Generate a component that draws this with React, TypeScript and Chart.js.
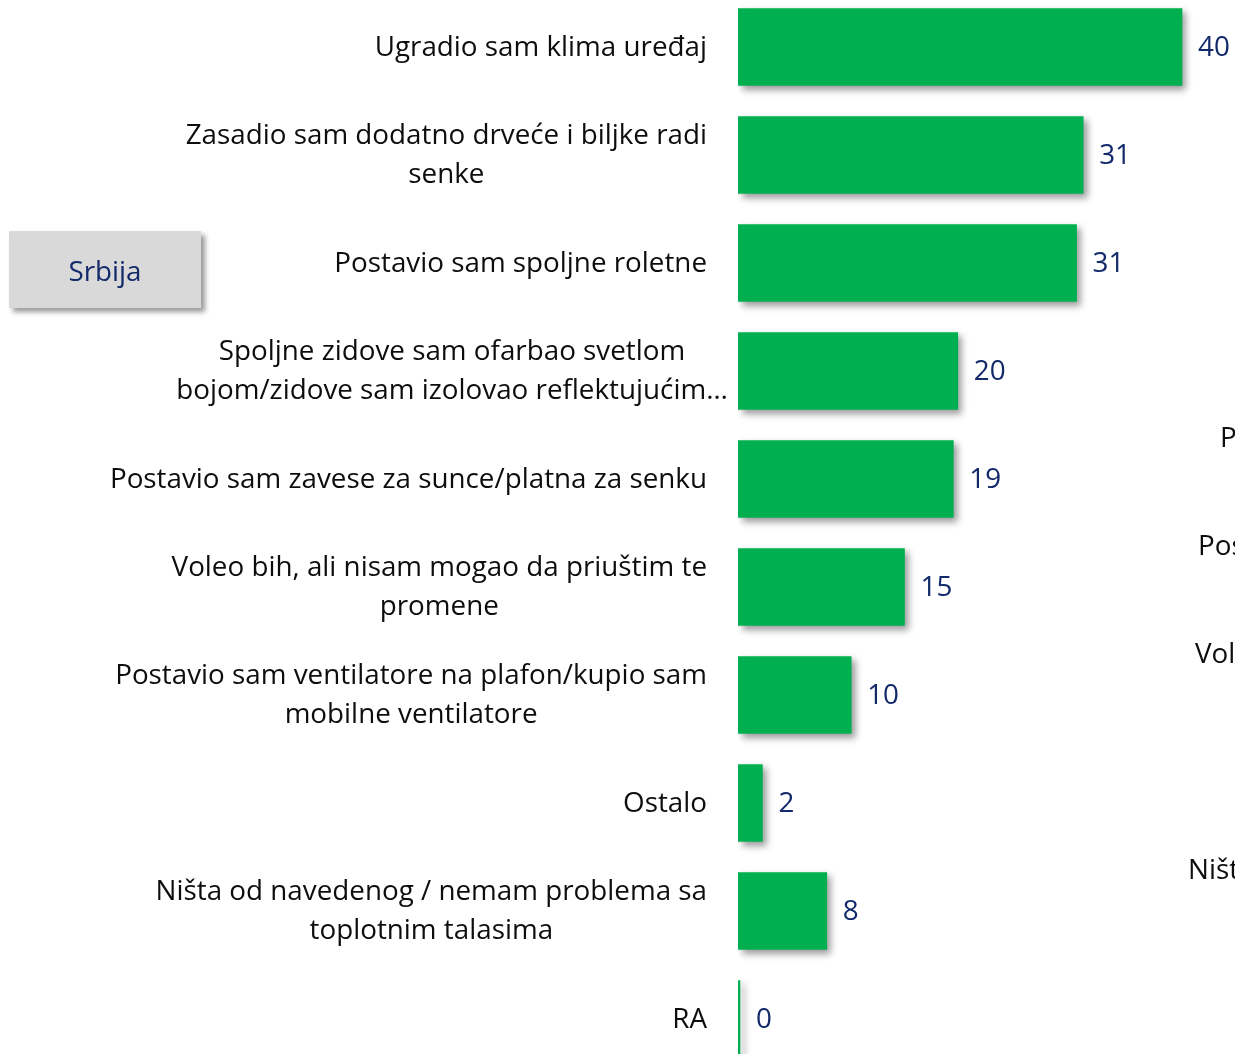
import React, { useEffect, useRef } from "react";
import { Chart, registerables } from "chart.js";

Chart.register(...registerables);

const categories: (string | string[])[] = [
  "Ugradio sam klima uređaj",
  ["Zasadio sam dodatno drveće i biljke radi", "senke"],
  "Postavio sam spoljne roletne",
  ["Spoljne zidove sam ofarbao svetlom", "bojom/zidove sam izolovao reflektujućim…"],
  "Postavio sam zavese za sunce/platna za senku",
  ["Voleo bih, ali nisam mogao da priuštim te", "promene"],
  ["Postavio sam ventilatore na plafon/kupio sam", "mobilne ventilatore"],
  "Ostalo",
  ["Ništa od navedenog / nemam problema sa", "toplotnim talasima"],
  "RA",
];

const values = [40, 31.1, 30.5, 19.8, 19.4, 15, 10.2, 2.2, 8, 0];

const panelLabel = "Srbija";

// clipped labels of the neighbouring chart at the right edge
const neighbourLabels = ["Postavio", "Postavio sam", "Voleo bih", "Ništa od"];
const neighbourRows = [3.63, 4.63, 5.63, 7.63];

const FONT = "'Open Sans', Lato, sans-serif";
const FONT_SIZE = 27.8;
const LABEL_COLOR = "#0d0d0d";
const VALUE_COLOR = "#12296a";
const BAR_COLOR = "#00b050";

export default function App() {
  const ref = useRef<HTMLCanvasElement | null>(null);

  useEffect(() => {
    if (!ref.current) return;

    const shadowPlugin = {
      id: "barShadow",
      beforeDatasetsDraw(chart: any) {
        const ctx = chart.ctx;
        ctx.save();
        ctx.shadowColor = "rgba(0,0,0,0.4)";
        ctx.shadowBlur = 7;
        ctx.shadowOffsetX = 4;
        ctx.shadowOffsetY = 4;
      },
      afterDatasetsDraw(chart: any) {
        chart.ctx.restore();
      },
    };

    const textPlugin = {
      id: "texts",
      afterDraw(chart: any) {
        const ctx = chart.ctx;
        const yScale = chart.scales.y;
        const meta = chart.getDatasetMeta(0);
        ctx.save();
        ctx.font = `${FONT_SIZE}px ${FONT}`;
        ctx.textBaseline = "middle";
        // category labels
        const lh = 39;
        const rightEdge = 707;
        categories.forEach((c, i) => {
          const lines = Array.isArray(c) ? c : [c];
          const yc = yScale.getPixelForValue(i) + 1;
          const w = Math.max(...lines.map((l) => ctx.measureText(l).width));
          const overflow = lines.some((l) => l.endsWith("…"));
          const cx = overflow ? 452 : rightEdge - w / 2;
          ctx.fillStyle = LABEL_COLOR;
          ctx.textAlign = "center";
          lines.forEach((l, k) => {
            const y = yc + (k - (lines.length - 1) / 2) * lh;
            ctx.fillText(l, cx, y);
          });
        });
        // value labels
        ctx.textAlign = "left";
        ctx.fillStyle = VALUE_COLOR;
        meta.data.forEach((bar: any, i: number) => {
          ctx.fillText(String(Math.round(values[i])), bar.x + 16, bar.y + 1);
        });
        // neighbour chart clipped labels
        ctx.fillStyle = LABEL_COLOR;
        const nx = [1220, 1198, 1195, 1188];
        neighbourLabels.forEach((t, k) => {
          const y = yScale.getPixelForValue(neighbourRows[k]);
          ctx.fillText(t, nx[k], y);
        });
        ctx.restore();
      },
    };

    const chart = new Chart(ref.current, {
      type: "bar",
      data: {
        labels: categories.map((c) => (Array.isArray(c) ? c.join(" ") : c)),
        datasets: [
          {
            data: values,
            backgroundColor: BAR_COLOR,
            borderWidth: 0,
            barThickness: 77,
            minBarLength: 2,
          },
        ],
      },
      options: {
        indexAxis: "y",
        responsive: false,
        animation: false,
        layout: { padding: { left: 738, right: 8.6, top: 0, bottom: 0 } },
        plugins: {
          legend: { display: false },
          tooltip: { enabled: false },
        },
        scales: {
          x: { display: false, min: 0, max: 44 },
          y: { display: false, offset: true, grid: { display: false } },
        },
      },
      plugins: [shadowPlugin, textPlugin],
    });
    return () => chart.destroy();
  }, []);

  return (
    <div
      style={{
        position: "fixed",
        left: 0,
        top: 0,
        width: 1235,
        height: 1054,
        overflow: "hidden",
        background: "#fff",
      }}
    >
      <canvas
        ref={ref}
        width={1235}
        height={1080}
        style={{ position: "absolute", left: 0, top: -7, width: 1235, height: 1080 }}
      />
      <div
        style={{
          position: "absolute",
          left: 9,
          top: 231,
          width: 192,
          height: 77,
          background: "#d9d9d9",
          boxShadow: "4px 4px 5px rgba(0,0,0,0.4)",
          display: "flex",
          alignItems: "center",
          justifyContent: "center",
          fontFamily: FONT,
          fontSize: FONT_SIZE,
          color: VALUE_COLOR,
        }}
      >
        {panelLabel}
      </div>
    </div>
  );
}
